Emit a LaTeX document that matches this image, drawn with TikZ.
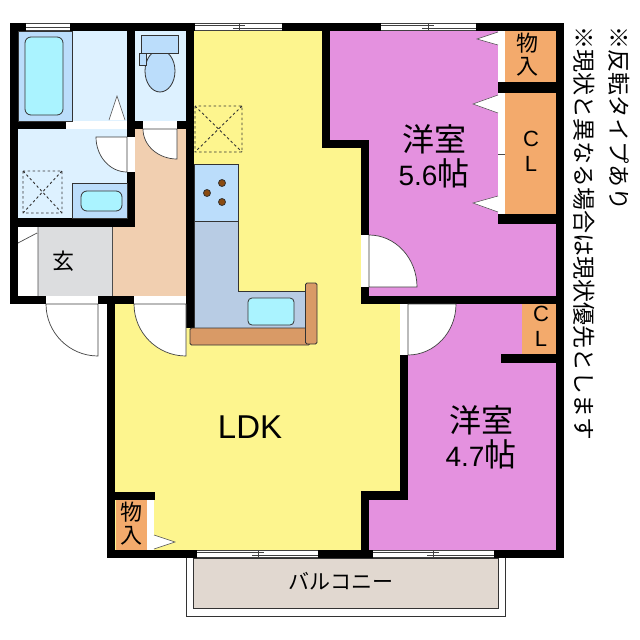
\documentclass[tikz,border=0pt]{standalone}
\usepackage{fontspec}
\setmainfont{Liberation Sans}
\newfontfamily\cjk{Noto Sans CJK JP}
\newfontfamily\cjkv[Vertical=RotatedGlyphs]{Noto Sans CJK JP}
\newcommand{\digitfont}{\fontspec{Liberation Sans}\fontsize{28}{34}\selectfont}
\definecolor{yellowLDK}{HTML}{FDF58E}
\definecolor{pinkRoom}{HTML}{E491DF}
\definecolor{orangeCL}{HTML}{F3AA6C}
\definecolor{paleBlue}{HTML}{DDF1FF}
\definecolor{midBlue}{HTML}{BBDDFB}
\definecolor{aquaTub}{HTML}{AAF3FF}
\definecolor{hallTan}{HTML}{F1CFB0}
\definecolor{entryGray}{HTML}{DCDDDF}
\definecolor{counterBlue}{HTML}{B8CCE4}
\definecolor{woodTop}{HTML}{D99A66}
\definecolor{balconyTan}{HTML}{E1D8D0}
\definecolor{brownDot}{HTML}{8A4A10}
\tikzset{
	wall/.style={fill=black, draw=none},
	fixture/.style={draw=black!80, line width=0.8pt},
	opening/.style={fill=white, draw=none},
	doorleaf/.style={fill=white, draw=black!75, line width=0.7pt},
	hatchbox/.style={draw=black!80, line width=0.9pt, dash pattern=on 2.5pt off 2.5pt},
	fold/.style={fill=white, draw=black!70, line width=0.5pt},
	roomlabel/.style={font=\cjk\fontsize{32}{34}\selectfont, align=center, inner sep=0pt},
	smalllabel/.style={font=\cjk\fontsize{22}{23}\selectfont, align=center, inner sep=0pt},
	latinlabel/.style={font=\fontsize{22}{25}\selectfont, align=center, inner sep=0pt},
	notelabel/.style={font=\cjkv\fontsize{23}{25}\selectfont, rotate=-90, inner sep=0pt, anchor=west}
}
\begin{document}
\begin{tikzpicture}[x=1pt, y=-1pt]
	\useasboundingbox[fill=white] (0,0) rectangle (640,640);
	% floors
	\fill[paleBlue] (18,31) rectangle (127,121);
	\fill[paleBlue] (18,129) rectangle (127,218);
	\fill[paleBlue] (135,31) rectangle (186,121);
	\fill[hallTan] (135,129) -- (186,129) -- (186,296) -- (112,296) -- (112,227) -- (135,227) -- cycle;
	\fill[entryGray] (38,227) rectangle (112,296);
	\fill[yellowLDK] (194,31) -- (322,31) -- (322,148) -- (361,148) -- (361,304) -- (400,304) -- (400,491) -- (361,491) -- (361,550) -- (115,550) -- (115,304) -- (194,304) -- cycle;
	\fill[pinkRoom] (330,31) -- (556,31) -- (556,296) -- (369,296) -- (369,140) -- (330,140) -- cycle;
	\fill[pinkRoom] (408,304) -- (556,304) -- (556,550) -- (369,550) -- (369,500) -- (408,500) -- cycle;
	\fill[orangeCL] (505,31) rectangle (556,82);
	\fill[orangeCL] (505,90) rectangle (556,215);
	\fill[orangeCL] (522,304) rectangle (556,354);
	\fill[orangeCL] (116,500) rectangle (147,550);
	\draw[fill=balconyTan, draw=black!80, line width=0.8pt] (193,558) rectangle (498,608);
	\draw[draw=black!80, line width=0.8pt] (186,558) -- (186,616) -- (505.5,616) -- (505.5,558);
	% walls
	\fill[wall] (10,23) rectangle (564,31);
	\fill[wall] (10,23) rectangle (18,304);
	\fill[wall] (556,23) rectangle (564,558);
	\fill[wall] (127,23) rectangle (135,137);
	\fill[wall] (127,172) rectangle (135,227);
	\fill[wall] (186,23) rectangle (194,328);
	\fill[wall] (18,121) rectangle (186,129);
	\fill[wall] (10,218) rectangle (135,227);
	\fill[wall] (10,296) rectangle (186,304);
	\fill[wall] (107,304) rectangle (115,558);
	\fill[wall] (107,492) rectangle (155,500);
	\fill[wall] (107,550) rectangle (564,558);
	\fill[wall] (322,23) rectangle (330,148);
	\fill[wall] (322,140) rectangle (369,148);
	\fill[wall] (361,140) rectangle (369,304);
	\fill[wall] (361,296) rectangle (564,304);
	\fill[wall] (400,304) rectangle (408,500);
	\fill[wall] (361,491) rectangle (408,500);
	\fill[wall] (361,491) rectangle (369,558);
	\fill[wall] (498,82) rectangle (556,93);
	\fill[wall] (498,214) rectangle (556,224);
	\fill[wall] (501,354) rectangle (556,363);
	% openings
	\fill[opening] (66,121) rectangle (127,129);
	\fill[opening] (143,121) rectangle (177,129);
	\fill[opening] (127,137) rectangle (134,172);
	\fill[opening] (46,296) rectangle (98,304);
	\fill[opening] (134,296) rectangle (186,304);
	\fill[opening] (361,235) rectangle (369,287);
	\fill[opening] (400,304) rectangle (408,355);
	\fill[opening] (498,31) rectangle (505,82);
	\fill[opening] (498,93) rectangle (505,214);
	\fill[opening] (147,500) rectangle (154,550);
	\fill[opening] (18,227) rectangle (38,296);
	\draw[black!70, line width=0.5pt] (498,154) -- (505,154);
	\draw[black!70, line width=0.7pt] (38,227) -- (38,296) (18,243) -- (37,233);
	\draw[black!70, line width=0.5pt] (112,227) -- (112,296);
	% windows
	\fill[opening] (26,23.5) rectangle (70,30.5);
	\draw[black!75, line width=0.5pt] (26,23.5) -- (70,23.5) (26,27) -- (70,27) (26,30.5) -- (70,30.5);
	\foreach \xa/\xm/\xb/\ya in {195/239/282/23.5, 381/428/476/23.5, 197/258/318/550.5, 373/433/494/550.5}{
		\fill[opening] (\xa,\ya) rectangle (\xb,\ya+7);
		\draw[black!75, line width=0.5pt] (\xa,\ya) -- (\xb,\ya) (\xa,\ya+7) -- (\xb,\ya+7);
		\draw[black!75, line width=0.7pt] (\xa,\ya+2) -- (\xm+6,\ya+2) (\xm-6,\ya+5) -- (\xb,\ya+5) (\xm,\ya) -- (\xm,\ya+7);
	}
	% doors
	\draw[doorleaf] (127,137) -- (96,137) arc[start angle=180, end angle=90, x radius=31, y radius=35] -- cycle;
	\draw[doorleaf] (177,129) -- (143,129) arc[start angle=180, end angle=90, x radius=34, y radius=30] -- cycle;
	\draw[doorleaf] (98,304) -- (46,304) arc[start angle=180, end angle=90, radius=52] -- cycle;
	\draw[doorleaf] (186,304) -- (134,304) arc[start angle=180, end angle=90, radius=52] -- cycle;
	\draw[doorleaf] (369,287) -- (417,287) arc[start angle=0, end angle=-90, x radius=48, y radius=52] -- cycle;
	\draw[doorleaf] (408,304) -- (456,304) arc[start angle=0, end angle=90, x radius=48, y radius=51] -- cycle;
	% folding doors
	\draw[fold] (498,32) -- (477,39) -- (498,45);
	\draw[fold] (498,95) -- (473,104) -- (498,113);
	\draw[fold] (498,196) -- (473,203) -- (498,212);
	\draw[fold] (154,535) -- (175,542) -- (154,549);
	\draw[fold] (109,120) -- (117,96) -- (125,120);
	% bath and toilet
	\draw[fill=midBlue, fixture] (18,31) rectangle (72,121);
	\draw[fill=aquaTub, fixture, rounded corners=6pt] (25,37) rectangle (63,115);
	\draw[fill=midBlue, fixture] (160,71) ellipse (15 and 21);
	\draw[fill=midBlue, fixture] (141,35) rectangle (178,53);
	\draw[fill=midBlue, fixture] (139,53) rectangle (146,65);
	\draw[fill=midBlue, fixture] (72,183) rectangle (127,218);
	\draw[fill=aquaTub, fixture, rounded corners=6pt] (81,191) rectangle (122,211);
	\draw[hatchbox] (23,171) rectangle (62,213) (23,171) -- (62,213) (62,171) -- (23,213);
	% kitchen
	\draw[hatchbox] (195,106) rectangle (242,152) (195,106) -- (242,152) (242,106) -- (195,152);
	\draw[fill=midBlue, fixture] (194,164) rectangle (238,221);
	\draw[fill=counterBlue, fixture] (194,221) -- (238,221) -- (238,291) -- (306,291) -- (306,328) -- (194,328) -- cycle;
	\foreach \dx/\dy in {207/193, 222/183, 222/202}{
		\draw[fill=brownDot, fixture] (\dx,\dy) circle (3.5);
	}
	\draw[fill=aquaTub, fixture, rounded corners=4pt] (248,298) rectangle (294,325);
	\draw[fill=woodTop, fixture, rounded corners=1.5pt] (190,328) rectangle (310,345);
	\draw[fill=woodTop, fixture, rounded corners=1.5pt] (305.5,283) rectangle (317,344);
	% labels
	\node[roomlabel] (room56) at (434,156) {洋室\\{\digitfont 5.6}帖};
	\node[roomlabel] (room47) at (481,437) {洋室\\{\digitfont 4.7}帖};
	\node[font=\fontsize{33}{35}\selectfont, inner sep=0pt] (ldk) at (250,427) {LDK};
	\node[smalllabel] (entry) at (63,261) {玄};
	\node[smalllabel] (closeta) at (527,55) {物\\入};
	\node[smalllabel] (closetb) at (131,524) {物\\入};
	\node[latinlabel] (clupper) at (531,151) {C\\L};
	\node[latinlabel] (cllower) at (541,326) {C\\L};
	\node[font=\cjk\fontsize{21}{23}\selectfont, inner sep=0pt] (balcony) at (341,581) {バルコニー};
	\node[notelabel] (notea) at (619,26) {※反転タイプあり};
	\node[notelabel] (noteb) at (584,26) {※現状と異なる場合は現状優先とします};
\end{tikzpicture}
\end{document}
